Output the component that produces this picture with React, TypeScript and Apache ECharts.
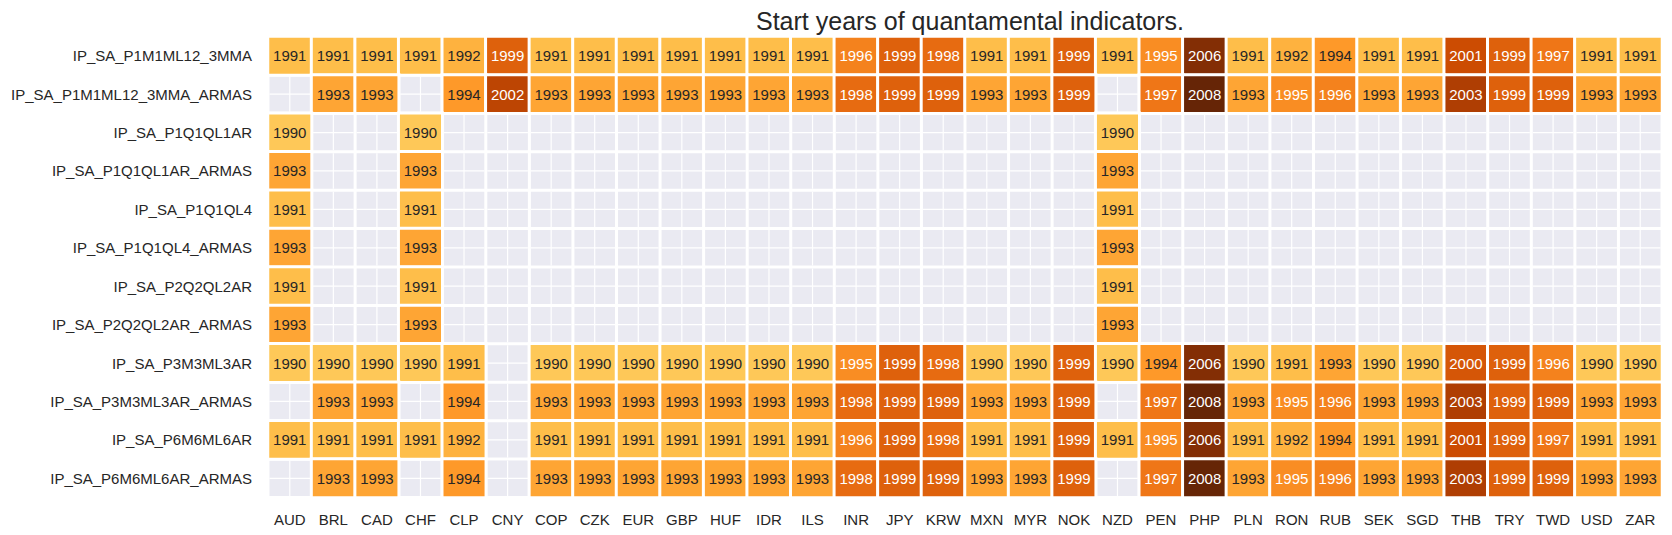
import React, { useEffect, useRef } from "react";
import * as echarts from "echarts";

const N = null;

const currencies = ["AUD","BRL","CAD","CHF","CLP","CNY","COP","CZK","EUR","GBP","HUF","IDR","ILS","INR","JPY","KRW","MXN","MYR","NOK","NZD","PEN","PHP","PLN","RON","RUB","SEK","SGD","THB","TRY","TWD","USD","ZAR"];

const indicators = [
  "IP_SA_P1M1ML12_3MMA",
  "IP_SA_P1M1ML12_3MMA_ARMAS",
  "IP_SA_P1Q1QL1AR",
  "IP_SA_P1Q1QL1AR_ARMAS",
  "IP_SA_P1Q1QL4",
  "IP_SA_P1Q1QL4_ARMAS",
  "IP_SA_P2Q2QL2AR",
  "IP_SA_P2Q2QL2AR_ARMAS",
  "IP_SA_P3M3ML3AR",
  "IP_SA_P3M3ML3AR_ARMAS",
  "IP_SA_P6M6ML6AR",
  "IP_SA_P6M6ML6AR_ARMAS",
];

//                      AUD  BRL  CAD  CHF  CLP  CNY  COP  CZK  EUR  GBP  HUF  IDR  ILS  INR  JPY  KRW  MXN  MYR  NOK  NZD  PEN  PHP  PLN  RON  RUB  SEK  SGD  THB  TRY  TWD  USD  ZAR
const p1m1ml12 =       [1991,1991,1991,1991,1992,1999,1991,1991,1991,1991,1991,1991,1991,1996,1999,1998,1991,1991,1999,1991,1995,2006,1991,1992,1994,1991,1991,2001,1999,1997,1991,1991];
const p1m1ml12Armas =  [N,   1993,1993,N,   1994,2002,1993,1993,1993,1993,1993,1993,1993,1998,1999,1999,1993,1993,1999,N,   1997,2008,1993,1995,1996,1993,1993,2003,1999,1999,1993,1993];
const p1q1ql1 =        [1990,N,   N,   1990,N,   N,   N,   N,   N,   N,   N,   N,   N,   N,   N,   N,   N,   N,   N,   1990,N,   N,   N,   N,   N,   N,   N,   N,   N,   N,   N,   N];
const p1q1ql1Armas =   [1993,N,   N,   1993,N,   N,   N,   N,   N,   N,   N,   N,   N,   N,   N,   N,   N,   N,   N,   1993,N,   N,   N,   N,   N,   N,   N,   N,   N,   N,   N,   N];
const p1q1ql4 =        [1991,N,   N,   1991,N,   N,   N,   N,   N,   N,   N,   N,   N,   N,   N,   N,   N,   N,   N,   1991,N,   N,   N,   N,   N,   N,   N,   N,   N,   N,   N,   N];
const p1q1ql4Armas =   [1993,N,   N,   1993,N,   N,   N,   N,   N,   N,   N,   N,   N,   N,   N,   N,   N,   N,   N,   1993,N,   N,   N,   N,   N,   N,   N,   N,   N,   N,   N,   N];
const p2q2ql2 =        [1991,N,   N,   1991,N,   N,   N,   N,   N,   N,   N,   N,   N,   N,   N,   N,   N,   N,   N,   1991,N,   N,   N,   N,   N,   N,   N,   N,   N,   N,   N,   N];
const p2q2ql2Armas =   [1993,N,   N,   1993,N,   N,   N,   N,   N,   N,   N,   N,   N,   N,   N,   N,   N,   N,   N,   1993,N,   N,   N,   N,   N,   N,   N,   N,   N,   N,   N,   N];
const p3m3ml3 =        [1990,1990,1990,1990,1991,N,   1990,1990,1990,1990,1990,1990,1990,1995,1999,1998,1990,1990,1999,1990,1994,2006,1990,1991,1993,1990,1990,2000,1999,1996,1990,1990];
const p3m3ml3Armas =   [N,   1993,1993,N,   1994,N,   1993,1993,1993,1993,1993,1993,1993,1998,1999,1999,1993,1993,1999,N,   1997,2008,1993,1995,1996,1993,1993,2003,1999,1999,1993,1993];
const p6m6ml6 =        [1991,1991,1991,1991,1992,N,   1991,1991,1991,1991,1991,1991,1991,1996,1999,1998,1991,1991,1999,1991,1995,2006,1991,1992,1994,1991,1991,2001,1999,1997,1991,1991];
const p6m6ml6Armas =   [N,   1993,1993,N,   1994,N,   1993,1993,1993,1993,1993,1993,1993,1998,1999,1999,1993,1993,1999,N,   1997,2008,1993,1995,1996,1993,1993,2003,1999,1999,1993,1993];

const rowValues = [
  p1m1ml12, p1m1ml12Armas, p1q1ql1, p1q1ql1Armas, p1q1ql4, p1q1ql4Armas,
  p2q2ql2, p2q2ql2Armas, p3m3ml3, p3m3ml3Armas, p6m6ml6, p6m6ml6Armas,
];

const colorMin = 1980;
const colorMax = 2008;
const ylOrBr = ["#ffffe5","#fff7bc","#fee391","#fec44f","#fe9929","#ec7014","#cc4c02","#993404","#662506"];

export default function App() {
  const ref = useRef<HTMLDivElement>(null);
  useEffect(() => {
    if (!ref.current) return;
    const chart = echarts.init(ref.current, null, { renderer: "svg" });

    const heatData: any[] = [];
    const bgData: any[] = [];
    rowValues.forEach((row, yi) => {
      row.forEach((v, xi) => {
        bgData.push([xi, yi]);
        if (v !== null) {
          heatData.push({
            value: [xi, yi, v],
            label: { color: v >= 1995 ? "#ffffff" : "#262626" },
          });
        }
      });
    });

    const font = "'Liberation Sans', Arial, sans-serif";

    chart.setOption({
      animation: false,
      backgroundColor: "#ffffff",
      title: {
        text: "Start years of quantamental indicators.",
        left: 965,
        textAlign: "center",
        top: 3,
        textStyle: { fontFamily: font, fontSize: 25, fontWeight: "normal", color: "#262626" },
      },
      grid: { left: 268, right: 10, top: 36.5, bottom: 37.5, containLabel: false },
      xAxis: {
        type: "category",
        data: currencies,
        axisLine: { show: false },
        axisTick: { show: false },
        splitLine: { show: false },
        axisLabel: { fontFamily: font, fontSize: 15, color: "#262626", margin: 14, interval: 0 },
      },
      yAxis: {
        type: "category",
        data: indicators,
        inverse: true,
        axisLine: { show: false },
        axisTick: { show: false },
        splitLine: { show: false },
        axisLabel: { fontFamily: font, fontSize: 15, color: "#262626", margin: 16, interval: 0 },
      },
      visualMap: {
        type: "continuous",
        show: false,
        min: colorMin,
        max: colorMax,
        dimension: 2,
        seriesIndex: 1,
        inRange: { color: ylOrBr },
      },
      series: [
        {
          type: "custom",
          z: 1,
          silent: true,
          data: bgData,
          renderItem: (params: any, api: any) => {
            const c = api.coord([api.value(0), api.value(1)]);
            const s = api.size([1, 1]);
            const w = s[0];
            const h = s[1];
            const gap = 1.5;
            return {
              type: "group",
              children: [
                {
                  type: "rect",
                  shape: { x: c[0] - w / 2 + gap, y: c[1] - h / 2 + gap, width: w - 2 * gap, height: h - 2 * gap },
                  style: { fill: "#EAEAF2" },
                },
                {
                  type: "line",
                  shape: { x1: c[0], y1: c[1] - h / 2 + gap, x2: c[0], y2: c[1] + h / 2 - gap },
                  style: { stroke: "#ffffff", lineWidth: 1.2 },
                },
                {
                  type: "line",
                  shape: { x1: c[0] - w / 2 + gap, y1: c[1], x2: c[0] + w / 2 - gap, y2: c[1] },
                  style: { stroke: "#ffffff", lineWidth: 1.2 },
                },
              ],
            };
          },
        },
        {
          type: "heatmap",
          z: 2,
          data: heatData,
          itemStyle: { borderColor: "#ffffff", borderWidth: 3 },
          label: {
            show: true,
            fontFamily: font,
            fontSize: 15,
            formatter: (p: any) => String(p.value[2]),
          },
          emphasis: { disabled: true },
        },
      ],
    });
    return () => chart.dispose();
  }, []);
  return (
    <div
      ref={ref}
      style={{ position: "absolute", left: 0, top: 0, width: 1672, height: 535 }}
    />
  );
}
